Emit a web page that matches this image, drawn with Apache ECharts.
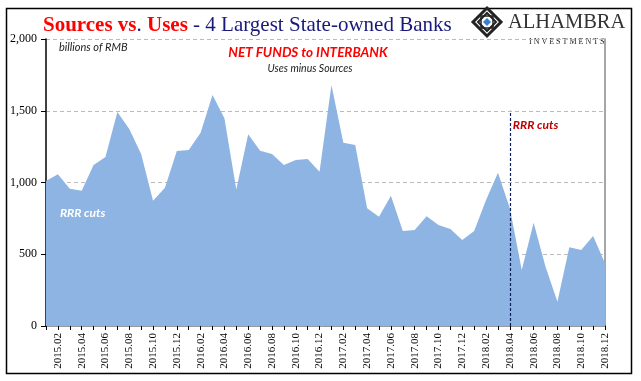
<!DOCTYPE html>
<html><head><meta charset="utf-8">
<script src="https://cdn.jsdelivr.net/npm/echarts@6/dist/echarts.min.js"></script>
<style>html,body{margin:0;padding:0;background:#fff}#c{width:641px;height:381px}</style>
</head><body><div id="c"></div>
<script>
const months = [];
for (let y = 2015; y <= 2018; y++) for (let m = 1; m <= 12; m++) months.push(y + '.' + String(m).padStart(2, '0'));
const netFunds = [1010,1057,957,943,1122,1178,1491,1373,1199,873,964,1220,
  1226,1347,1610,1447,952,1336,1222,1199,1122,1157,1164,1075,
  1679,1277,1261,820,762,908,662,669,764,704,676,599,
  662,878,1068,820,390,720,413,169,548,530,627,437];
const yTicks = [0, 500, 1000, 1500, 2000];
const cutMonth = '2018.04';

const chart = echarts.init(document.getElementById('c'));
const serif = '"Liberation Serif", "DejaVu Serif", serif';
chart.setOption({
  animation: false,
  title: {
    left: 38, top: 10,
    text: '{a|Sources vs}{b|. }{a|Uses}{b| - 4 Largest State-owned Banks}',
    textStyle: { rich: {
      a: { fontFamily: serif, fontWeight: 'bold', fontSize: 21, color: '#ff0000' },
      b: { fontFamily: serif, fontWeight: 'normal', fontSize: 21, color: '#1a1a7a' }
    }}
  },
  grid: { left: 46, right: 36, top: 39, bottom: 55 },
  xAxis: [{
    type: 'category', data: months, boundaryGap: false,
    axisLine: { lineStyle: { color: '#000', width: 1.5 } },
    axisTick: { interval: 0, length: 4, lineStyle: { color: '#000' } },
    axisLabel: { rotate: 90, interval: (i) => i % 2 === 1, fontFamily: serif, fontSize: 11, color: '#000', margin: 7 },
    splitLine: { show: false }
  }, {
    type: 'category', data: months, boundaryGap: false, position: 'top',
    axisLine: { lineStyle: { color: '#999', width: 1 } },
    axisTick: { show: false }, axisLabel: { show: false }
  }],
  yAxis: [{
    type: 'value', min: 0, max: 2000, interval: 500,
    axisLine: { show: true, lineStyle: { color: '#000', width: 1.5 } },
    axisTick: { show: true, length: 5, lineStyle: { color: '#000' } },
    axisLabel: { fontFamily: serif, fontSize: 12, color: '#000', margin: 9,
      formatter: (v) => yTicks.includes(v) ? v.toLocaleString('en-US') : '' },
    splitLine: { show: true, lineStyle: { color: '#bbb', type: [4, 3], width: 1 } }
  }, {
    type: 'value', min: 0, max: 2000, interval: 500, position: 'right',
    axisLine: { show: true, lineStyle: { color: '#888', width: 1.5 } },
    axisTick: { show: false }, axisLabel: { show: false }, splitLine: { show: false }
  }],
  series: [{
    type: 'line', data: netFunds, symbol: 'none',
    lineStyle: { width: 0 },
    areaStyle: { color: '#8EB4E3', opacity: 1 },
    markLine: {
      silent: true, symbol: 'none',
      lineStyle: { color: '#0d1f5c', type: [3, 2], width: 1.2 },
      label: { show: false },
      data: [[{ coord: [cutMonth, 0] }, { coord: [cutMonth, 1500] }]]
    },
    markPoint: {
      symbol: 'circle', symbolSize: 0,
      data: [
        { coord: [cutMonth, 1400], label: { show: true, position: 'right', distance: 3, formatter: 'RRR cuts',
          color: '#c00000', fontFamily: 'Lato', fontStyle: 'italic', fontWeight: 'bold', fontSize: 12 } },
        { coord: ['2015.02', 790], label: { show: true, position: 'right', distance: 2, formatter: 'RRR cuts',
          color: '#ffffff', fontFamily: 'Lato', fontStyle: 'italic', fontWeight: 'bold', fontSize: 12 } }
      ]
    }
  }],
  graphic: [
    { type: 'rect', shape: { x: 6.5, y: 8.5, width: 625, height: 365 }, style: { fill: 'none', stroke: '#000', lineWidth: 1.5 }, silent: true, z: -1 },
    { type: 'text', left: 59, top: 42, style: { text: 'billions of RMB', font: 'italic 11px Lato', fill: '#222' } },
    { type: 'text', x: 308, y: 46, style: { text: 'NET FUNDS to INTERBANK', font: 'italic bold 13.5px Lato', fill: '#ff0000', align: 'center' } },
    { type: 'text', x: 310, y: 63, style: { text: 'Uses minus Sources', font: 'italic 10.5px Lato', fill: '#222', align: 'center' } },
    // logo
    { type: 'group', x: 487, y: 22, children: [
      { type: 'polygon', shape: { points: [[0,-14],[14,0],[0,14],[-14,0]] }, style: { fill: '#fff', stroke: '#222', lineWidth: 3 } },
      { type: 'polygon', shape: { points: [[0,-9],[9,0],[0,9],[-9,0]] }, style: { fill: 'none', stroke: '#222', lineWidth: 2 } },
      { type: 'rect', shape: { x: -6, y: -6, width: 12, height: 12 }, style: { fill: 'none', stroke: '#222', lineWidth: 1.5 } },
      { type: 'polygon', shape: { points: [[0,-4],[4,0],[0,4],[-4,0]] }, style: { fill: '#3a7fd0' } }
    ]},
    { type: 'text', left: 508, top: 12, style: { text: 'ALHAMBRA', font: '20.5px "Liberation Serif"', fill: '#333' } },
    { type: 'text', left: 529, top: 38, style: { text: 'I N V E S T M E N T S', font: '8px "Liberation Serif"', fill: '#222' } }
  ]
});
</script></body></html>
